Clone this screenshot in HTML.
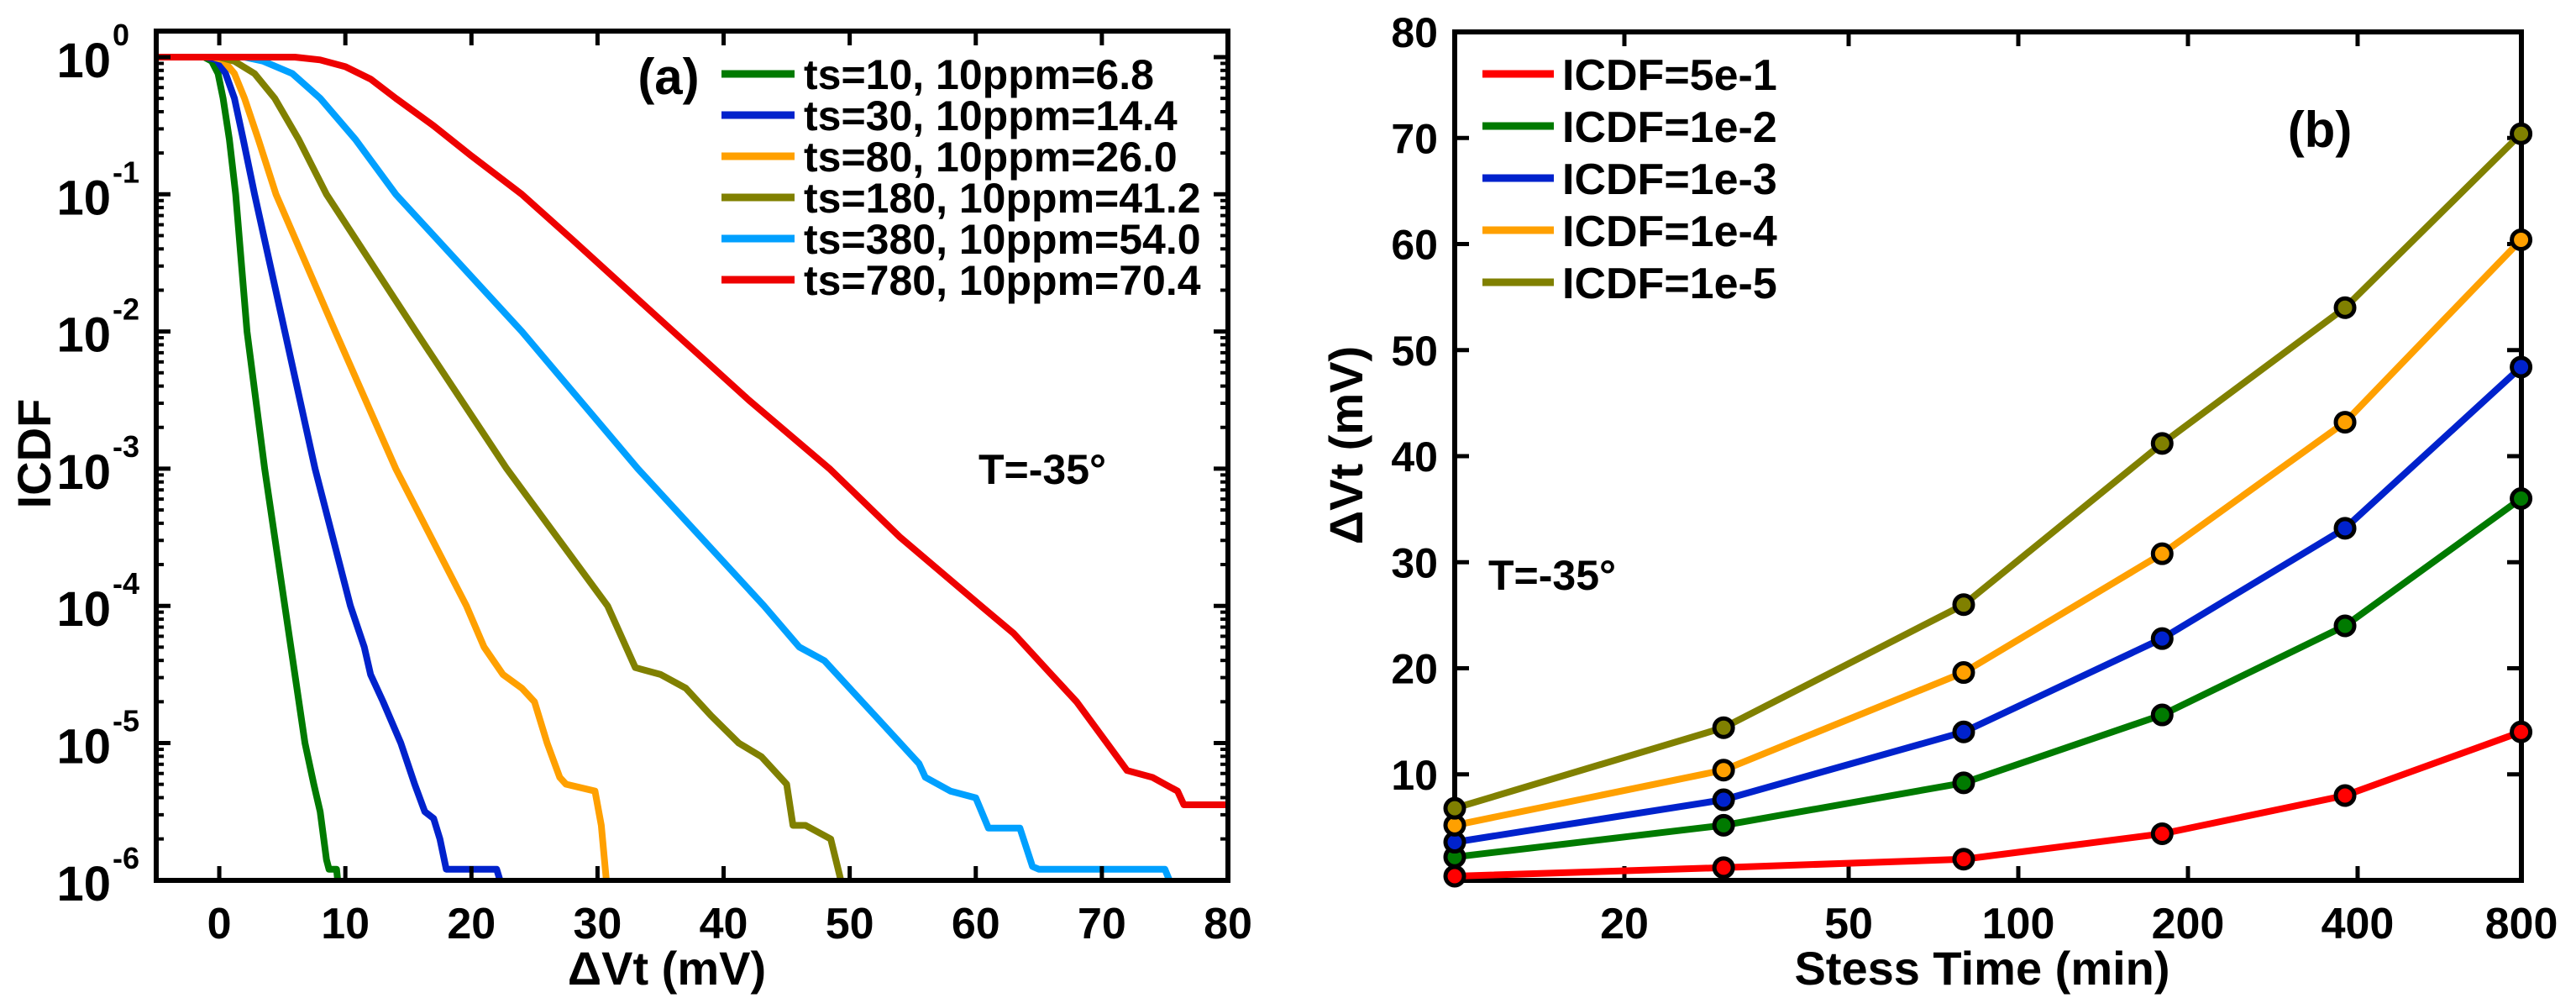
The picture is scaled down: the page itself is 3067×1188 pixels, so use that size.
<!DOCTYPE html>
<html><head><meta charset="utf-8"><style>
html,body{margin:0;padding:0;background:#fff;}
svg{display:block;font-family:"Liberation Sans",Arial,sans-serif;font-weight:bold;}
</style></head><body>
<svg id="fig" width="3067" height="1188" viewBox="0 0 3067 1188" xmlns="http://www.w3.org/2000/svg">
<rect width="3067" height="1188" fill="#fff"/>
<g id="pa"></g>
<g id="pb"></g>
</svg>
<script>
// ---------- Chart (a) data ----------
const aSeriesNames = ["ts=10, 10ppm=6.8","ts=30, 10ppm=14.4","ts=80, 10ppm=26.0","ts=180, 10ppm=41.2","ts=380, 10ppm=54.0","ts=780, 10ppm=70.4"];
const aColors = ["#007a00","#0022cc","#ffa000","#808000","#00a0ff","#ee0000"];
// [dVt (mV), log10(ICDF)]
const aGreen = [[-5,0],[-1.2,0],[-0.6,-0.03],[-0.1,-0.12],[0.3,-0.3],[0.8,-0.6],[1.3,-1],[2.2,-2],[3.6,-3],[5.2,-4],[6.8,-5],[7.5,-5.3],[8,-5.5],[8.5,-5.85],[8.7,-5.92],[9.3,-5.92],[9.5,-6.1]];
const aBlue = [[-5,0],[-1,0],[-0.2,-0.02],[0.5,-0.12],[1.2,-0.3],[1.9,-0.6],[2.8,-1],[5.2,-2],[7.6,-3],[10.4,-4],[11.5,-4.3],[12,-4.5],[13,-4.7],[14.4,-5],[15.5,-5.3],[16.3,-5.5],[17,-5.55],[17.5,-5.7],[18,-5.92],[22,-5.92],[22.6,-6.1]];
const aOrange = [[-5,0],[-0.5,0],[0.3,-0.02],[1.2,-0.12],[2,-0.3],[3.1,-0.6],[4.5,-1],[9.2,-2],[14,-3],[19.6,-4],[21,-4.3],[22.5,-4.5],[24,-4.6],[25,-4.7],[26,-5],[27,-5.25],[27.5,-5.3],[29.8,-5.35],[30.3,-5.6],[30.8,-6.1]];
const aOlive = [[-5,0],[0,0],[1.2,-0.03],[2.8,-0.12],[4.4,-0.3],[6.3,-0.6],[8.5,-1],[15.6,-2],[22.8,-3],[30.8,-4],[33,-4.45],[35,-4.5],[37,-4.6],[39,-4.8],[41.2,-5],[43,-5.1],[45,-5.3],[45.5,-5.6],[46.5,-5.6],[47.5,-5.65],[48.5,-5.7],[49.3,-6],[49.8,-6.1]];
const aLightBlue = [[-5,0],[2,0],[3.5,-0.03],[5.8,-0.12],[8,-0.3],[10.8,-0.6],[14,-1],[24,-2],[33.2,-3],[43.2,-4],[46,-4.3],[48,-4.4],[50,-4.6],[52,-4.8],[54,-5],[55.5,-5.15],[56,-5.25],[58,-5.35],[60,-5.4],[61,-5.62],[63.5,-5.62],[64.5,-5.9],[65,-5.92],[75,-5.92],[75.8,-6.1]];
const aRed = [[-5,0],[6,0],[8,-0.02],[10,-0.07],[12,-0.16],[14,-0.3],[17,-0.5],[20,-0.72],[24,-1.0],[28,-1.33],[36,-2],[42,-2.5],[48.4,-3],[54,-3.5],[60.4,-4],[63,-4.2],[66,-4.5],[68,-4.7],[70.4,-5],[72,-5.2],[74,-5.25],[75,-5.3],[76,-5.35],[76.5,-5.45],[80,-5.45]];
const aXTicks = [0,10,20,30,40,50,60,70,80];
const aYTicks = [0,-1,-2,-3,-4,-5,-6];

// ---------- Chart (b) data ----------
const bTimes = [10,30,80,180,380,780];
const bNames = ["ICDF=5e-1","ICDF=1e-2","ICDF=1e-3","ICDF=1e-4","ICDF=1e-5"];
const bColors = ["#ff0000","#007a00","#0022cc","#ffa000","#808000"];
const b5e1 = [0.4,1.2,2.0,4.4,8.0,14.0];
const b1e2 = [2.2,5.2,9.2,15.6,24.0,36.0];
const b1e3 = [3.6,7.6,14.0,22.8,33.2,48.4];
const b1e4 = [5.2,10.4,19.6,30.8,43.2,60.4];
const b1e5 = [6.8,14.4,26.0,41.2,54.0,70.4];
const bXTicks = [20,50,100,200,400,800];
const bYTicks = [10,20,30,40,50,60,70,80];

const NS="http://www.w3.org/2000/svg";
function mk(tag, attrs, parent){const e=document.createElementNS(NS,tag);for(const k in attrs)e.setAttribute(k,attrs[k]);parent.appendChild(e);return e;}

// ---------- draw (a) ----------
const pa=document.getElementById('pa');
const aL=186,aR=1462,aT=37,aB=1048;
const ax=v=>aL+(v-(-5))*(aR-aL)/85;
const ay=l=>68-l*163.3;
const clipA=mk('clipPath',{id:'ca'},pa);mk('rect',{x:aL,y:aT,width:aR-aL,height:aB-aT},clipA);
const aSeries=[aGreen,aBlue,aOrange,aOlive,aLightBlue,aRed];
const ga=mk('g',{'clip-path':'url(#ca)'},pa);
aSeries.forEach((s,i)=>{
  const p=mk('polyline',{points:s.map(d=>ax(d[0]).toFixed(1)+','+ay(d[1]).toFixed(1)).join(' '),fill:'none',stroke:aColors[i],'stroke-width':8,'stroke-linejoin':'round'},ga);
  
  
});
const boxA=mk('rect',{x:aL,y:aT,width:aR-aL,height:aB-aT,fill:'none',stroke:'#000','stroke-width':6},pa);


aXTicks.forEach(v=>{
  const x=ax(v);
  mk('line',{x1:x,y1:aB,x2:x,y2:aB-17,stroke:'#000','stroke-width':5},pa);
  mk('line',{x1:x,y1:aT,x2:x,y2:aT+17,stroke:'#000','stroke-width':5},pa);
  const t=mk('text',{x:x,y:1117,'font-size':52,'text-anchor':'middle'},pa);t.textContent=v;
  
  
});
aYTicks.forEach(l=>{
  const y=ay(l);
  mk('line',{x1:aL,y1:y,x2:aL+17,y2:y,stroke:'#000','stroke-width':5},pa);
  mk('line',{x1:aR,y1:y,x2:aR-17,y2:y,stroke:'#000','stroke-width':5},pa);
  if(l>-6){for(let k=2;k<10;k++){const yy=ay(l-1+Math.log10(k));
    mk('line',{x1:aL,y1:yy,x2:aL+9,y2:yy,stroke:'#000','stroke-width':4},pa);
    mk('line',{x1:aR,y1:yy,x2:aR-9,y2:yy,stroke:'#000','stroke-width':4},pa);}}
  const t=mk('text',{x:132,y:y+24,'font-size':58,'text-anchor':'end'},pa);
  t.textContent='10';
  
  
  const e=mk('text',{x:134,y:y-14,'font-size':36,'text-anchor':'start'},pa);e.textContent=(l===0?'0':String(l));
});
let t;
t=mk('text',{x:794,y:1172,'font-size':56,'text-anchor':'middle'},pa);t.textContent='\u0394Vt (mV)';

t=mk('text',{x:0,y:0,'font-size':56,'text-anchor':'middle',transform:'translate(60,540) rotate(-90)'},pa);t.textContent='ICDF';

t=mk('text',{x:796,y:112,'font-size':60,'text-anchor':'middle'},pa);t.textContent='(a)';

t=mk('text',{x:1165,y:576,'font-size':50},pa);t.textContent='T=-35\u00B0';

aSeriesNames.forEach((n,i)=>{
  const y=88+i*49;
  const g=mk('g',{},pa);
  
  
  mk('line',{x1:859,y1:y,x2:946,y2:y,stroke:aColors[i],'stroke-width':9},g);
  const tt=mk('text',{x:957,y:y+18,'font-size':50},g);tt.textContent=n;
});

// ---------- draw (b) ----------
const pb=document.getElementById('pb');
const bL=1732,bR=3002,bT=38,bB=1048;
const bx=v=>bL+(Math.log10(v)-1)*671;
const by=v=>bB-v*(bB-bT)/80;
const bSeries=[b5e1,b1e2,b1e3,b1e4,b1e5];
const boxB=mk('rect',{x:bL,y:bT,width:bR-bL,height:bB-bT,fill:'none',stroke:'#000','stroke-width':6},pb);


bXTicks.forEach(v=>{
  const x=bx(v);
  if(x<bR-3){
  mk('line',{x1:x,y1:bB,x2:x,y2:bB-17,stroke:'#000','stroke-width':5},pb);
  mk('line',{x1:x,y1:bT,x2:x,y2:bT+17,stroke:'#000','stroke-width':5},pb);}
  const tt=mk('text',{x:Math.min(x,bR),y:1117,'font-size':52,'text-anchor':'middle'},pb);tt.textContent=v;
  
  
});
bYTicks.forEach(v=>{
  const y=by(v);
  mk('line',{x1:bL,y1:y,x2:bL+17,y2:y,stroke:'#000','stroke-width':5},pb);
  mk('line',{x1:bR,y1:y,x2:bR-17,y2:y,stroke:'#000','stroke-width':5},pb);
  const tt=mk('text',{x:1712,y:y+18,'font-size':50,'text-anchor':'end'},pb);tt.textContent=v;
  
  
});
bSeries.forEach((s,i)=>{
  const g=mk('g',{},pb);
  
  
  mk('polyline',{points:s.map((v,j)=>bx(bTimes[j]).toFixed(1)+','+by(v).toFixed(1)).join(' '),fill:'none',stroke:bColors[i],'stroke-width':8,'stroke-linejoin':'round'},g);
  s.forEach((v,j)=>{
    const c=mk('circle',{cx:bx(bTimes[j]),cy:by(v),r:11,fill:bColors[i],stroke:'#000','stroke-width':5},g);
    
    
  });
});
t=mk('text',{x:2360,y:1172,'font-size':56,'text-anchor':'middle'},pb);t.textContent='Stess Time (min)';

t=mk('text',{x:0,y:0,'font-size':56,'text-anchor':'middle',transform:'translate(1622,530) rotate(-90)'},pb);t.textContent='\u0394Vt (mV)';

t=mk('text',{x:2762,y:175,'font-size':60,'text-anchor':'middle'},pb);t.textContent='(b)';

t=mk('text',{x:1772,y:702,'font-size':50},pb);t.textContent='T=-35\u00B0';

bNames.forEach((n,i)=>{
  const y=88+i*62;
  const g=mk('g',{},pb);
  
  
  mk('line',{x1:1765,y1:y,x2:1850,y2:y,stroke:bColors[i],'stroke-width':9},g);
  const tt=mk('text',{x:1860,y:y+19,'font-size':52},g);tt.textContent=n;
});
</script>
</body></html>
